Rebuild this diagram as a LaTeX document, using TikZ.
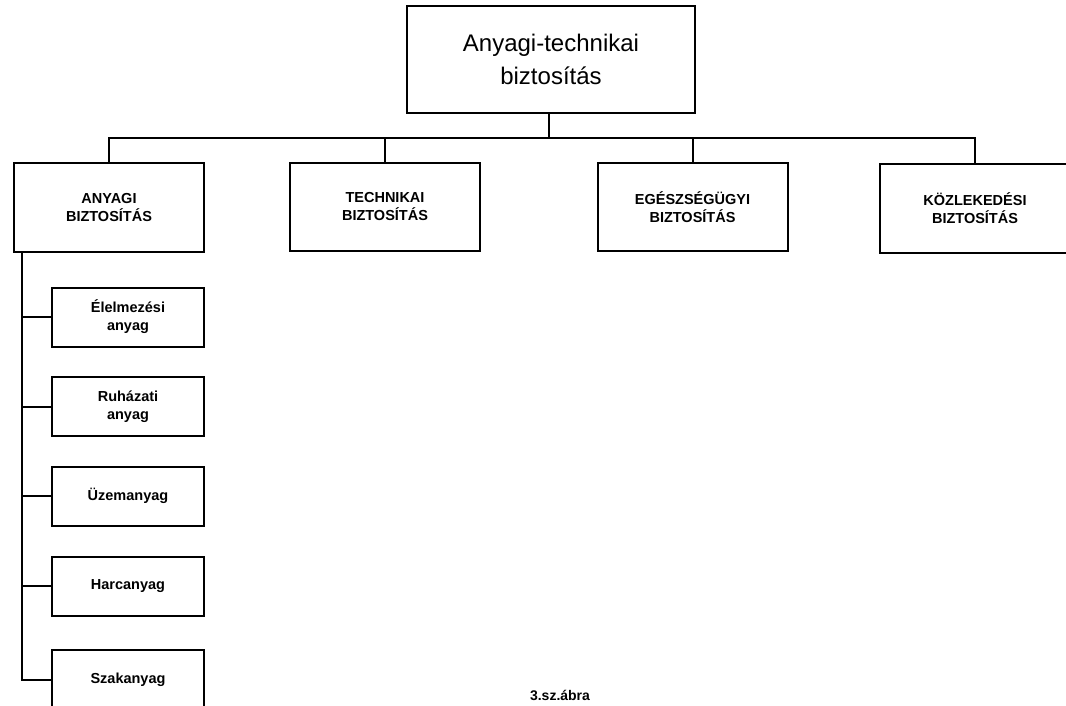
\documentclass[tikz,border=0pt]{standalone}
\usepackage{fontspec}
\setmainfont{Liberation Sans}
\begin{document}
\begin{tikzpicture}[x=1pt,y=-1pt,
  line width=2pt,
  topbox/.style={draw, minimum width=288pt, minimum height=107pt, align=center, inner sep=0pt,
    font=\fontsize{24}{33}\selectfont},
  mainbox/.style={draw, minimum width=190pt, minimum height=88pt, align=center, inner sep=0pt,
    font=\fontsize{14.5}{18}\selectfont\bfseries},
  subbox/.style={draw, minimum width=152pt, minimum height=59pt, align=center, inner sep=0pt,
    font=\fontsize{14.5}{18}\selectfont\bfseries},
  conn/.style={line width=2pt}]
\useasboundingbox (0,0) rectangle (1066,706);
\begin{scope}
\clip (0,0) rectangle (1066,706);
\node[topbox] (top) at (551,59.5) {Anyagi-technikai\\biztosítás};
\node[mainbox] (b1) at (109,207.5) {ANYAGI\\BIZTOSÍTÁS};
\node[mainbox] (b2) at (385,207) {TECHNIKAI\\BIZTOSÍTÁS};
\node[mainbox] (b3) at (692.5,207) {EGÉSZSÉGÜGYI\\BIZTOSÍTÁS};
\node[mainbox] (b4) at (975,208.5) {KÖZLEKEDÉSI\\BIZTOSÍTÁS};
\node[subbox] (s1) at (128,317) {Élelmezési\\anyag};
\node[subbox] (s2) at (128,406.5) {Ruházati\\anyag};
\node[subbox] (s3) at (128,496) {Üzemanyag};
\node[subbox] (s4) at (128,586) {Harcanyag};
\node[subbox] (s5) at (128,679.5) {Szakanyag};
\coordinate (bus) at (549,138);
\coordinate (trunk) at (22,252);
\draw[conn] (top.south -| bus) -- (bus);
\draw[conn] (b1.north) -- (b1.north |- bus) -- (b4.north |- bus) -- (b4.north);
\draw[conn] (b2.north) -- (b2.north |- bus);
\draw[conn] (b3.north) -- (b3.north |- bus);
\draw[conn] (trunk) |- (s5.west);
\draw[conn] (s1.west) -- (s1.west -| trunk);
\draw[conn] (s2.west) -- (s2.west -| trunk);
\draw[conn] (s3.west) -- (s3.west -| trunk);
\draw[conn] (s4.west) -- (s4.west -| trunk);
\node[font=\fontsize{14}{16}\selectfont\bfseries] (cap) at (560,695) {3.sz.ábra};
\end{scope}
\end{tikzpicture}
\end{document}
